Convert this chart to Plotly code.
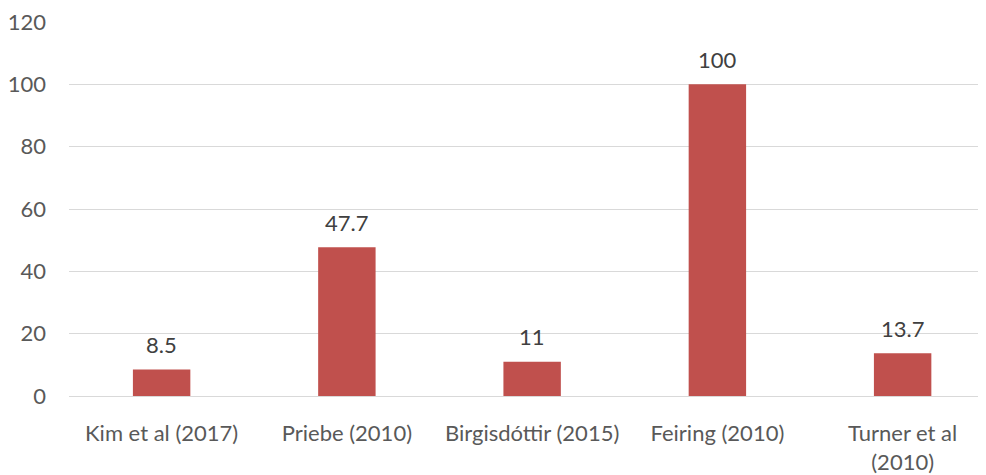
import plotly.graph_objects as go

# Chart data
studies = ['Kim et al (2017)', 'Priebe (2010)', 'Birgisdóttir (2015)',
           'Feiring (2010)', 'Turner et al<br>(2010)']
values = [8.5, 47.7, 11, 100, 13.7]
value_labels = ['8.5', '47.7', '11', '100', '13.7']

fig = go.Figure()

fig.add_trace(
    go.Bar(
        x=studies,
        y=values,
        width=0.31,
        marker=dict(color='#C0504D', line=dict(width=0)),
        hoverinfo='x+y'
    )
)

# Value labels above bars
for cat, val, lab in zip(studies, values, value_labels):
    fig.add_annotation(
        x=cat, y=val, text=lab,
        showarrow=False, yanchor='middle', yshift=25,
        font=dict(size=22, color='#404040')
    )

# page body has an 8px margin, so the figure is a bit smaller than the window
fig.update_layout(
    width=978,
    height=467,
    margin=dict(l=61, r=0, t=8, b=71),
    plot_bgcolor='white',
    paper_bgcolor='white',
    font=dict(family='Lato, Liberation Sans, sans-serif', size=22, color='#595959'),
    showlegend=False,
)

fig.update_xaxes(
    range=[-0.5, 4.45],
    showgrid=False,
    showline=False,
    ticks='',
    ticklabelstandoff=22,
    tickfont=dict(size=22, color='#595959')
)

fig.update_yaxes(
    range=[0, 120],
    dtick=20,
    showgrid=True,
    gridcolor='#D9D9D9',
    gridwidth=1,
    zeroline=True,
    zerolinecolor='#D9D9D9',
    zerolinewidth=1,
    ticks='',
    ticklabelstandoff=22,
    ticklabeloverflow='allow',
    tickfont=dict(size=22, color='#595959')
)

fig.write_html("out.html")
